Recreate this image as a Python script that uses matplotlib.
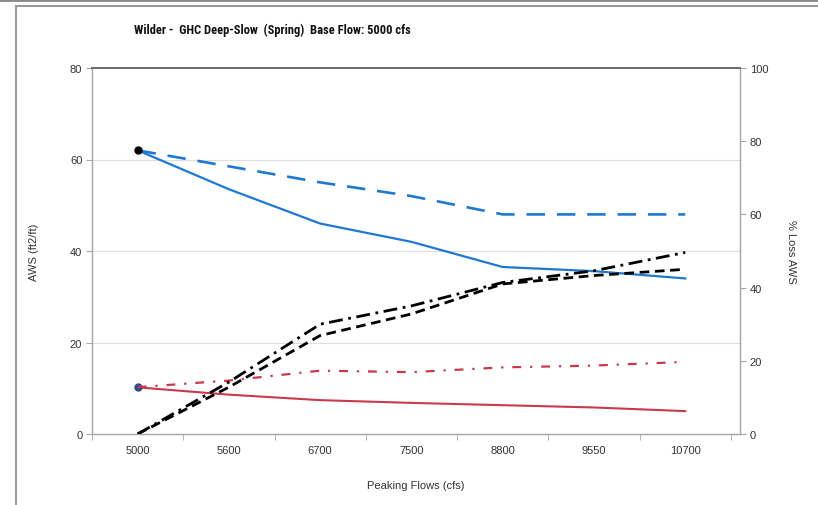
import matplotlib.pyplot as plt
import matplotlib.patches as mpatches
import numpy as np

plt.rcParams['font.family'] = ['Liberation Sans', 'DejaVu Sans']

# categorie asse x
flows = ["5000", "5600", "6700", "7500", "8800", "9550", "10700"]

# AWS (asse sinistro)
aws_blue = [62, 53.5, 46, 42, 36.5, 35.6, 34]
aws_blue_base = [62, 58.5, 55, 52, 48, 48, 48]
aws_red = [10.2, 8.6, 7.4, 6.8, 6.3, 5.8, 5.0]

# % Loss AWS (asse destro)
loss_red = [12.8, 14.6, 17.3, 16.9, 18.2, 18.7, 19.7]
loss_dashdot = [0, 14.2, 30, 35, 41.4, 44.6, 49.6]
loss_dashed = [0, 12.8, 26.9, 32.8, 41.0, 43.3, 45]

blue = "#1f78d1"
red = "#c9394c"

x = np.arange(len(flows))

fig = plt.figure(figsize=(8.18, 5.06), dpi=100)
ax = fig.add_axes([92 / 818, 71 / 506, 648 / 818, 366 / 506])
ax2 = ax.twinx()

# cornice esterna
fig.patches.append(mpatches.Rectangle((16 / 818, -0.1), 1.2, 1.1 - 7 / 506,
                                      transform=fig.transFigure, fill=False,
                                      edgecolor="#9a9a9a", lw=1.5))
fig.add_artist(plt.Line2D([0, 1], [1 - 1 / 506, 1 - 1 / 506], color="#8a8a8a", lw=2))

for yv in [20, 40, 60]:
    ax.axhline(yv, color="#dedede", lw=0.8, zorder=0)

ax.plot(x, aws_blue_base, color=blue, lw=1.9, dashes=(7, 4.5))
ax.plot(x, aws_blue, color=blue, lw=1.6)
ax.plot(x, aws_red, color=red, lw=1.5)
ax.plot(x[0], aws_blue[0], "o", color="black", ms=5)
ax.plot(x[0], aws_red[0], "o", color="#2d4f86", ms=5)

ax2.plot(x, loss_red, color=red, lw=1.6, dashes=(4, 4, 1, 4))
ax2.plot(x, loss_dashdot, color="black", lw=2.0, dashes=(5, 2, 1, 2))
ax2.plot(x, loss_dashed, color="black", lw=2.0, dashes=(3.5, 2))

ax.set_xlim(-0.5, 6.6)
ax.set_ylim(0, 80)
ax2.set_ylim(0, 100)
ax.set_xticks(x)
ax.set_xticklabels(flows)
ax.set_xticks(np.arange(-0.5, 6.6, 1), minor=True)
ax.set_yticks([0, 20, 40, 60, 80])
ax2.set_yticks([0, 20, 40, 60, 80, 100])

for a in (ax, ax2):
    for s in a.spines.values():
        s.set_color("#a8a8a8")
        s.set_linewidth(0.9)
    a.spines["top"].set_color("#6e6e6e")
    a.spines["top"].set_linewidth(1.4)
    a.tick_params(labelsize=8, colors="#a8a8a8", labelcolor="#333333", length=4)
ax.tick_params(axis="x", which="major", length=0, pad=8)
ax.tick_params(axis="x", which="minor", length=4, color="#a8a8a8")
ax.tick_params(axis="y", pad=3)
ax2.tick_params(axis="y", pad=3)

ax.set_xlabel("Peaking Flows (cfs)", fontsize=8, color="#333333", labelpad=18)
ax.set_ylabel("AWS (ft2/ft)", fontsize=8, color="#333333", labelpad=22)
ax2.set_ylabel("% Loss AWS", fontsize=8, color="#333333", rotation=-90, labelpad=20)

fig.text(0.333, 1 - 30 / 506, "Wilder -  GHC Deep-Slow  (Spring)  Base Flow: 5000 cfs",
         ha="center", va="center", fontsize=9, fontweight="bold", color="#111111",
         family=["Roboto Condensed", "Roboto"], fontstretch="condensed")

fig.savefig("out.png", dpi=100)
